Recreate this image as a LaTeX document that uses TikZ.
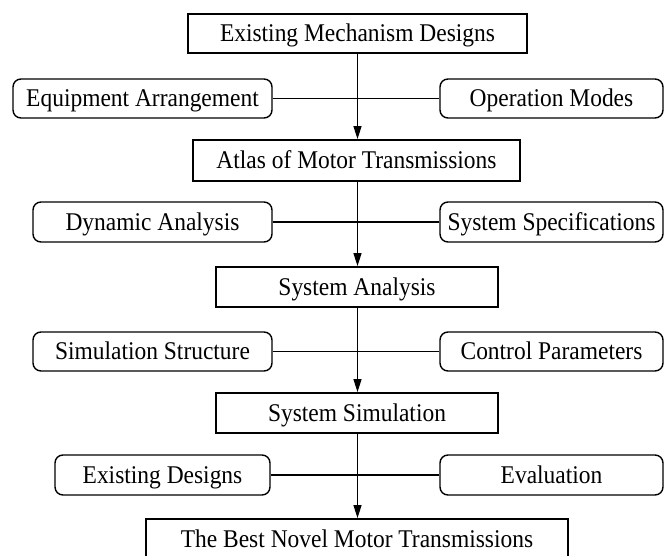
\documentclass[tikz,border=0pt]{standalone}
\usepackage{fontspec}
\setmainfont{Liberation Serif}[FakeStretch=0.92]
\usetikzlibrary{arrows.meta}

\tikzset{
  every node/.style={font=\fontsize{25.5}{30}\selectfont, inner sep=0pt, text=black,
    text height=16.8pt, text depth=0pt},
  mainbox/.style={draw, line width=1.8pt, rectangle, minimum height=40pt},
  sidebox/.style={draw, line width=1.4pt, rectangle, rounded corners=8pt, minimum height=39pt},
  flow/.style={line width=1.2pt, -{Triangle[width=8pt,length=13pt]}},
  link/.style={line width=1.2pt}
}

\begin{document}
\begin{tikzpicture}[x=1pt, y=-1pt]
\useasboundingbox (0,0) rectangle (664,556);
\clip (0,0) rectangle (664,556);

% main chain of design stages
\node[mainbox, minimum width=339pt, minimum height=39pt] (existing) at (357.5,33.5) {Existing Mechanism Designs};
\node[mainbox, minimum width=327pt, minimum height=41pt] (atlas) at (356.5,160.5) {Atlas of Motor Transmissions};
\node[mainbox, minimum width=282pt] (analysis) at (357,287) {System Analysis};
\node[mainbox, minimum width=282pt] (simulation) at (357,413) {System Simulation};
\node[mainbox, minimum width=422pt, minimum height=41pt] (best) at (357,539.5) {The Best Novel Motor Transmissions};

% inputs on the left
\node[sidebox, minimum width=259pt] (equip) at (142.5,98.5) {Equipment Arrangement};
\node[sidebox, minimum width=239pt, minimum height=40pt] (dynamic) at (152.5,222) {Dynamic Analysis};
\node[sidebox, minimum width=239pt] (simstruct) at (152.5,351.5) {Simulation Structure};
\node[sidebox, minimum width=215pt, minimum height=40pt] (exdesigns) at (162.5,475) {Existing Designs};

% inputs on the right
\node[sidebox, minimum width=223pt] (opmodes) at (551.5,98.5) {Operation Modes};
\node[sidebox, minimum width=223pt, minimum height=40pt] (specs) at (551.5,222) {System Specifications};
\node[sidebox, minimum width=223pt] (control) at (551.5,351.5) {Control Parameters};
\node[sidebox, minimum width=223pt, minimum height=40pt] (evaluation) at (551.5,475) {Evaluation};

% horizontal links between paired inputs
\draw[link] (equip.east) -- (opmodes.west);
\draw[link] (dynamic.east) -- (specs.west);
\draw[link] (simstruct.east) -- (control.west);
\draw[link] (exdesigns.east) -- (evaluation.west);

% downward flow
\draw[flow] (existing.south) -- (existing.south |- atlas.north);
\draw[flow] (atlas.south -| existing.south) -- (existing.south |- analysis.north);
\draw[flow] (analysis.south -| existing.south) -- (existing.south |- simulation.north);
\draw[flow] (simulation.south -| existing.south) -- (existing.south |- best.north);
\end{tikzpicture}
\end{document}
